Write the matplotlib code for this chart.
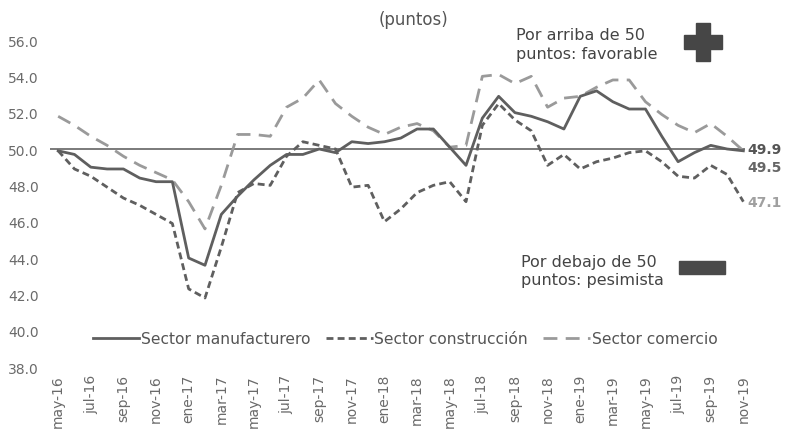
import numpy as np
import matplotlib
matplotlib.use("Agg")
import matplotlib.pyplot as plt
from matplotlib.patches import Rectangle

# monthly labels, may-16 .. nov-19
MESES = ["ene", "feb", "mar", "abr", "may", "jun", "jul", "ago", "sep", "oct", "nov", "dic"]
meses = [f"{MESES[(4 + i) % 12]}-{16 + (4 + i) // 12}" for i in range(43)]

manufacturero = [49.9, 49.7, 49.0, 48.9, 48.9, 48.4, 48.2, 48.2, 44.0, 43.6,
                 46.4, 47.4, 48.3, 49.1, 49.7, 49.7, 50.0, 49.8, 50.4, 50.3,
                 50.4, 50.6, 51.1, 51.1, 50.1, 49.1, 51.7, 52.9, 52.0, 51.8,
                 51.5, 51.1, 52.9, 53.2, 52.6, 52.2, 52.2, 50.7, 49.3, 49.8,
                 50.2, 50.0, 49.9]
construccion = [49.9, 48.9, 48.5, 47.9, 47.3, 46.9, 46.4, 45.9, 42.3, 41.8,
                44.6, 47.6, 48.1, 48.0, 49.6, 50.4, 50.2, 50.0, 47.9, 48.0,
                46.0, 46.7, 47.6, 48.0, 48.2, 47.1, 51.3, 52.5, 51.6, 51.0,
                49.1, 49.7, 48.9, 49.3, 49.5, 49.8, 49.9, 49.3, 48.5, 48.4,
                49.1, 48.6, 47.1]
comercio = [51.8, 51.3, 50.7, 50.2, 49.6, 49.1, 48.7, 48.3, 47.1, 45.6,
            48.0, 50.8, 50.8, 50.7, 52.3, 52.8, 53.8, 52.5, 51.8, 51.2,
            50.8, 51.2, 51.4, 51.0, 50.1, 50.2, 54.0, 54.1, 53.6, 54.0,
            52.3, 52.8, 52.9, 53.4, 53.8, 53.8, 52.6, 51.9, 51.3, 50.9,
            51.4, 50.7, 49.9]
etiquetas_fin = ["49.9", "49.5", "47.1"]

GRIS_OSC = "#5f5f5f"
GRIS_CLARO = "#9a9a9a"
TXT = "#6a6a6a"

plt.rcParams["font.family"] = ["DejaVu Sans"]

W, H = 785, 431
fig = plt.figure(figsize=(W / 100, H / 100), dpi=100)
ax = fig.add_axes([50 / W, (H - 368) / H, (745 - 50) / W, (368 - 41) / H])

x = np.arange(len(meses))
ax.axhline(50, color="#7a7a7a", lw=1.4, zorder=1)
ax.plot(x, manufacturero, color=GRIS_OSC, lw=2.0, label="Sector manufacturero", zorder=3)
ax.plot(x, construccion, color=GRIS_OSC, lw=2.0, dashes=(2.5, 1.5), label="Sector construcción", zorder=2)
ax.plot(x, comercio, color=GRIS_CLARO, lw=2.0, dashes=(5, 3), label="Sector comercio", zorder=2)

ax.set_xlim(-0.5, 42.1)
ax.set_ylim(38, 56)
ax.set_yticks(np.arange(38, 57, 2))
ax.set_yticklabels([f"{v:.1f}" for v in np.arange(38, 57, 2)])
ax.set_xticks(x[::2])
ax.set_xticklabels(meses[::2], rotation=90)
ax.tick_params(axis="both", length=0, colors=TXT, labelsize=10)
ax.tick_params(axis="y", pad=8)
ax.tick_params(axis="x", pad=5)
for s in ax.spines.values():
    s.set_visible(False)

# end-of-line values
ax.text(42.25, 50.0, etiquetas_fin[0], color="#555555", fontsize=10, fontweight="bold",
        va="center", ha="left", clip_on=False)
ax.text(42.25, 49.0, etiquetas_fin[1], color="#666666", fontsize=10, fontweight="bold",
        va="center", ha="left", clip_on=False)
ax.text(42.25, 47.1, etiquetas_fin[2], color="#a0a0a0", fontsize=10, fontweight="bold",
        va="center", ha="left", clip_on=False)

leg = ax.legend(loc="center", bbox_to_anchor=(405 / W, (H - 340) / H),
                bbox_transform=fig.transFigure, ncol=3, frameon=False,
                fontsize=11.2, handlelength=3.0, handletextpad=0.1, columnspacing=1.0)
for t in leg.get_texts():
    t.set_color("#555555")

fig.text(413 / W, 1 - 20 / H, "(puntos)", ha="center", va="center", fontsize=12, color="#555555")
fig.text(516 / W, 1 - 45 / H, "Por arriba de 50\npuntos: favorable", ha="left", va="center",
         fontsize=11.5, color="#444444", linespacing=1.25)
fig.text(521 / W, 1 - 272 / H, "Por debajo de 50\npuntos: pesimista", ha="left", va="center",
         fontsize=11.5, color="#444444", linespacing=1.25)

# plus sign and minus bar
cx, cy = 703, 43
fig.patches.append(Rectangle(((cx - 7) / W, 1 - (cy + 19) / H), 14 / W, 38 / H,
                             transform=fig.transFigure, color="#464646"))
fig.patches.append(Rectangle(((cx - 19) / W, 1 - (cy + 7) / H), 38 / W, 14 / H,
                             transform=fig.transFigure, color="#464646"))
fig.patches.append(Rectangle((679 / W, 1 - 275 / H), 46 / W, 13 / H,
                             transform=fig.transFigure, color="#4a4a4a"))

fig.savefig("out.png", dpi=100)
